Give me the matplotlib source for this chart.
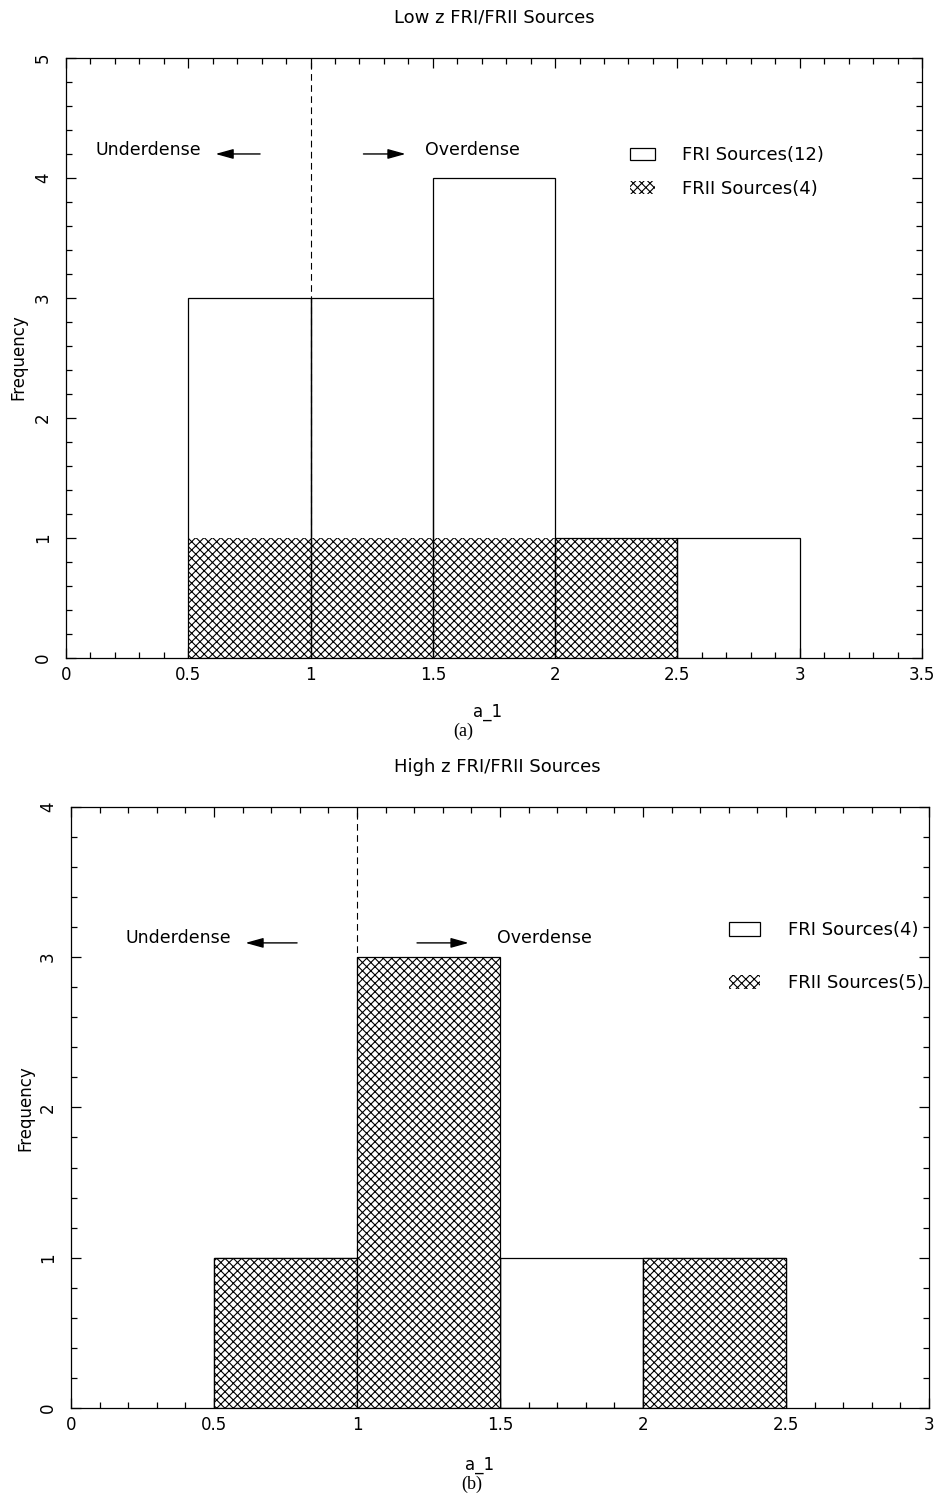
import numpy as np
import matplotlib
matplotlib.use("Agg")
import matplotlib.pyplot as plt
from matplotlib.patches import Patch
from matplotlib.ticker import MultipleLocator

# datos de los histogramas (bordes de bin y frecuencias)
edges_low = [0.5, 1.0, 1.5, 2.0, 2.5, 3.0]
fri_low = [3, 3, 4, 1, 1]
frii_low = [1, 1, 1, 1, 0]

edges_high = [0.5, 1.0, 1.5, 2.0, 2.5]
fri_high = [1, 1, 1, 1]
frii_high = [1, 3, 0, 1]

titles = ["Low z FRI/FRII Sources", "High z FRI/FRII Sources"]
fri_labels = ["FRI Sources(12)", "FRI Sources(4)"]
frii_labels = ["FRII Sources(4)", "FRII Sources(5)"]

plt.rcParams['font.family'] = ['DejaVu Sans']
plt.rcParams['hatch.linewidth'] = 0.8
FS = 12
HATCH = 'xxxx'


def draw_panel(ax, edges, fri, frii, xmax, ymax, frii_on_top):
    left = np.array(edges[:-1])
    width = np.diff(edges)
    zf = 3 if frii_on_top else 2
    ax.bar(left, frii, width=width, align='edge', facecolor='white',
           edgecolor='k', hatch=HATCH, linewidth=0.9 if frii_on_top else 0,
           zorder=zf)
    ax.bar(left, fri, width=width, align='edge', fill=False,
           edgecolor='k', linewidth=0.9, zorder=2.5)
    ax.axvline(1.0, color='k', lw=0.8, ls=(0, (6, 4)), zorder=4)
    ax.set_xlim(0, xmax)
    ax.set_ylim(0, ymax)
    ax.xaxis.set_major_locator(MultipleLocator(0.5))
    ax.xaxis.set_minor_locator(MultipleLocator(0.1))
    ax.yaxis.set_major_locator(MultipleLocator(1))
    ax.yaxis.set_minor_locator(MultipleLocator(0.2))
    ax.xaxis.set_major_formatter(plt.FuncFormatter(lambda v, p: f"{v:g}"))
    ax.tick_params(which='both', direction='in', top=True, right=True,
                   labelsize=FS, width=0.9)
    ax.tick_params(which='major', length=7)
    ax.tick_params(which='minor', length=4)
    ax.tick_params(axis='x', pad=6)
    ax.tick_params(axis='y', pad=10)
    for lab in ax.get_yticklabels():
        lab.set_rotation(90)
        lab.set_va('center')
    for s in ax.spines.values():
        s.set_linewidth(0.9)
        s.set_zorder(5)


arrow_kw = dict(arrowstyle='-|>,head_length=0.9,head_width=0.25', color='k',
                lw=1, mutation_scale=12)

fig = plt.figure(figsize=(9.41, 14.94), dpi=100)

# (a) bajo z
ax1 = fig.add_axes([0.0701, 0.5596, 0.9097, 0.4016])
draw_panel(ax1, edges_low, fri_low, frii_low, 3.5, 5, False)
ax1.text(0.12, 4.23, "Underdense", fontsize=FS + 0.5, va='center')
ax1.annotate("", xy=(0.60, 4.2), xytext=(0.805, 4.2), arrowprops=arrow_kw)
ax1.annotate("", xy=(1.40, 4.2), xytext=(1.205, 4.2), arrowprops=arrow_kw)
ax1.text(1.47, 4.23, "Overdense", fontsize=FS + 0.5, va='center')
h1 = [Patch(facecolor='white', edgecolor='k', lw=0.9),
      Patch(facecolor='white', edgecolor='k', hatch=HATCH, lw=0)]
ax1.legend(h1, [fri_labels[0], frii_labels[0]], loc='upper left',
           bbox_to_anchor=(0.659, 0.853), frameon=False, fontsize=FS + 1,
           borderpad=0, borderaxespad=0, handlelength=1.4, handleheight=0.7,
           handletextpad=1.45, labelspacing=0.85)

# (b) alto z
ax2 = fig.add_axes([0.0755, 0.0576, 0.9118, 0.4023])
draw_panel(ax2, edges_high, fri_high, frii_high, 3, 4, True)
ax2.text(0.19, 3.13, "Underdense", fontsize=FS + 0.5, va='center')
ax2.annotate("", xy=(0.60, 3.095), xytext=(0.80, 3.095), arrowprops=arrow_kw)
ax2.annotate("", xy=(1.40, 3.095), xytext=(1.20, 3.095), arrowprops=arrow_kw)
ax2.text(1.49, 3.13, "Overdense", fontsize=FS + 0.5, va='center')
h2 = [Patch(facecolor='white', edgecolor='k', lw=0.9),
      Patch(facecolor='white', edgecolor='k', hatch=HATCH, lw=0)]
ax2.legend(h2, [fri_labels[1], frii_labels[1]], loc='upper left',
           bbox_to_anchor=(0.767, 0.810), frameon=False, fontsize=FS + 1,
           borderpad=0, borderaxespad=0, handlelength=1.7, handleheight=0.8,
           handletextpad=1.55, labelspacing=1.95)

# textos de la figura
fig.text(0.525, 0.9886, titles[0], fontsize=FS + 1, ha='center', va='center')
fig.text(0.528, 0.4866, titles[1], fontsize=FS + 1, ha='center', va='center')
fig.text(0.019, 0.761, "Frequency", fontsize=FS, rotation=90, ha='center', va='center')
fig.text(0.027, 0.258, "Frequency", fontsize=FS, rotation=90, ha='center', va='center')
fig.text(0.5186, 0.5234, "a_1", fontsize=FS, ha='center', va='center')
fig.text(0.510, 0.0194, "a_1", fontsize=FS, ha='center', va='center')
fig.text(0.492, 0.5107, "(a)", fontsize=FS + 1, family='Liberation Serif', ha='center', va='center')
fig.text(0.5016, 0.0067, "(b)", fontsize=FS + 1, family='Liberation Serif', ha='center', va='center')

fig.savefig("out.png", dpi=100)
